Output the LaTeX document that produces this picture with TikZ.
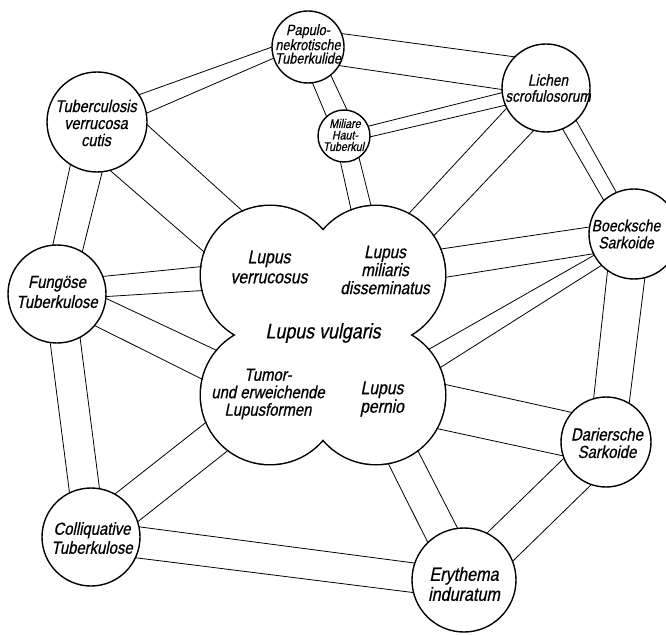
\documentclass[tikz,border=0pt]{standalone}
\usepackage{fontspec}
\newfontfamily\hand{Liberation Sans}[FakeSlant=0.2,FakeStretch=0.85,FakeBold=0.6]
\newcommand\hf[2]{\hand\fontsize{#1}{#2}\selectfont}
\begin{document}
\begin{tikzpicture}[x=1pt,y=-1pt,
  disc/.style={circle,draw,line width=1.4pt,fill=white,inner sep=0pt,outer sep=0pt,minimum size=#1},
  lobe/.style={circle,draw,line width=3pt,inner sep=0pt,outer sep=0pt,minimum size=138pt},
  lobefill/.style={circle,fill=white,inner sep=0pt,outer sep=0pt,minimum size=138pt},
  band/.style={line width=0.8pt},
  lbl/.style={align=center,inner sep=0pt}]
\path[fill=white,use as bounding box] (0,0) rectangle (666,636);

% central cloverleaf (Lupus vulgaris)
\node[lobe] (UL) at (270,275) {};
\node[lobe] (UR) at (376,275) {};
\node[lobe] (LL) at (270,395) {};
\node[lobe] (LR) at (376,395) {};
\node[lobefill] (ULf) at (UL) {};
\node[lobefill] (URf) at (UR) {};
\node[lobefill] (LLf) at (LL) {};
\node[lobefill] (LRf) at (LR) {};
\fill[white] (UL.center) rectangle (LR.center);

% outer circles
\node[disc=72pt]  (P) at (308,47)  {};
\node[disc=52pt]  (M) at (344,136) {};
\node[disc=88pt]  (L) at (546,88)  {};
\node[disc=100pt] (T) at (97,122)  {};
\node[disc=98pt]  (F) at (57,294)  {};
\node[disc=98pt]  (C) at (91,537)  {};
\node[disc=104pt] (E) at (464,580) {};
\node[disc=90pt]  (D) at (606,442) {};
\node[disc=90pt]  (B) at (634,234) {};

% bands
\draw[band] (P.180) -- (T.33);   \draw[band] (P.198) -- (T.10);
\draw[band] (P.22)  -- (L.135);  \draw[band] (P.-31) -- (L.182);
\draw[band] (P.277) -- (M.132);  \draw[band] (P.309) -- (M.83);
\draw[band] (M.22)  -- (L.186);  \draw[band] (M.358) -- (L.203);
\draw[band] (M.262) -- (UR.111); \draw[band] (M.305) -- (UR.94);
\draw[band] (L.207) -- (UR.62);  \draw[band] (L.254) -- (UR.34);
\draw[band] (L.292) -- (B.132);  \draw[band] (L.313) -- (B.113);
\draw[band] (UR.22) -- (B.171);  \draw[band] (UR.358) -- (B.206);
\draw[band] (LR.41) -- (B.208);  \draw[band] (LR.23) -- (B.224);
\draw[band] (T.357) -- (UL.113); \draw[band] (T.285) -- (UL.161);
\draw[band] (T.238) -- (F.95);   \draw[band] (T.276) -- (F.59);
\draw[band] (F.21)  -- (UL.173); \draw[band] (F.357) -- (UL.193);
\draw[band] (F.355) -- (LL.140); \draw[band] (F.320) -- (LL.167);
\draw[band] (F.262) -- (C.116);  \draw[band] (F.298) -- (C.80);
\draw[band] (C.61)  -- (LL.203); \draw[band] (C.18)  -- (LL.233);
\draw[band] (C.12)  -- (E.161);  \draw[band] (C.335) -- (E.194);
\draw[band] (E.134) -- (LR.280); \draw[band] (E.97)  -- (LR.307);
\draw[band] (E.64)  -- (D.201);  \draw[band] (E.21)  -- (D.251);
\draw[band] (LR.9)  -- (D.139);  \draw[band] (LR.331) -- (D.198);
\draw[band] (D.106) -- (B.234);  \draw[band] (D.59)  -- (B.284);

% texts
\node[lbl,font=\hf{15}{13.5}] (Pt) at (308,44) {Papulo-\\nekrotische\\Tuberkulide};
\node[lbl,font=\hf{12.5}{11.5}] (Mt) at (345,135) {Miliare\\Haut-\\Tuberkul.};
\node[lbl,font=\hf{16}{16}] (Lt) at (548,88) {Lichen\\scrofulosorum};
\node[lbl,font=\hf{17}{17}] (Tt) at (96,123) {Tuberculosis\\verrucosa\\cutis};
\node[lbl,font=\hf{17.5}{20}] (Ft) at (57,292) {Fungöse\\Tuberkulose};
\node[lbl,font=\hf{17.5}{19}] (Ct) at (92,538) {Colliquative\\Tuberkulose};
\node[lbl,font=\hf{19}{20}] (Et) at (464,584) {Erythema\\induratum};
\node[lbl,font=\hf{17.5}{17.5}] (Dt) at (607,443) {Dariersche\\Sarkoide};
\node[lbl,font=\hf{16.5}{17}] (Bt) at (626,234) {Boecksche\\Sarkoide};
\node[lbl,font=\hf{18.5}{20}] (ULt) at (269,267) {Lupus\\verrucosus};
\node[lbl,font=\hf{18}{18}] (URt) at (385,270) {Lupus\\miliaris\\disseminatus};
\node[lbl,font=\hf{21}{21}] (Vt) at (323,333) {Lupus vulgaris};
\node[lbl,font=\hf{17.5}{17.5}] (LLt) at (268,394) {Tumor-\\und erweichende\\Lupusformen};
\node[lbl,font=\hf{18.5}{18.5}] (LRt) at (382,399) {Lupus\\pernio};
\end{tikzpicture}
\end{document}
